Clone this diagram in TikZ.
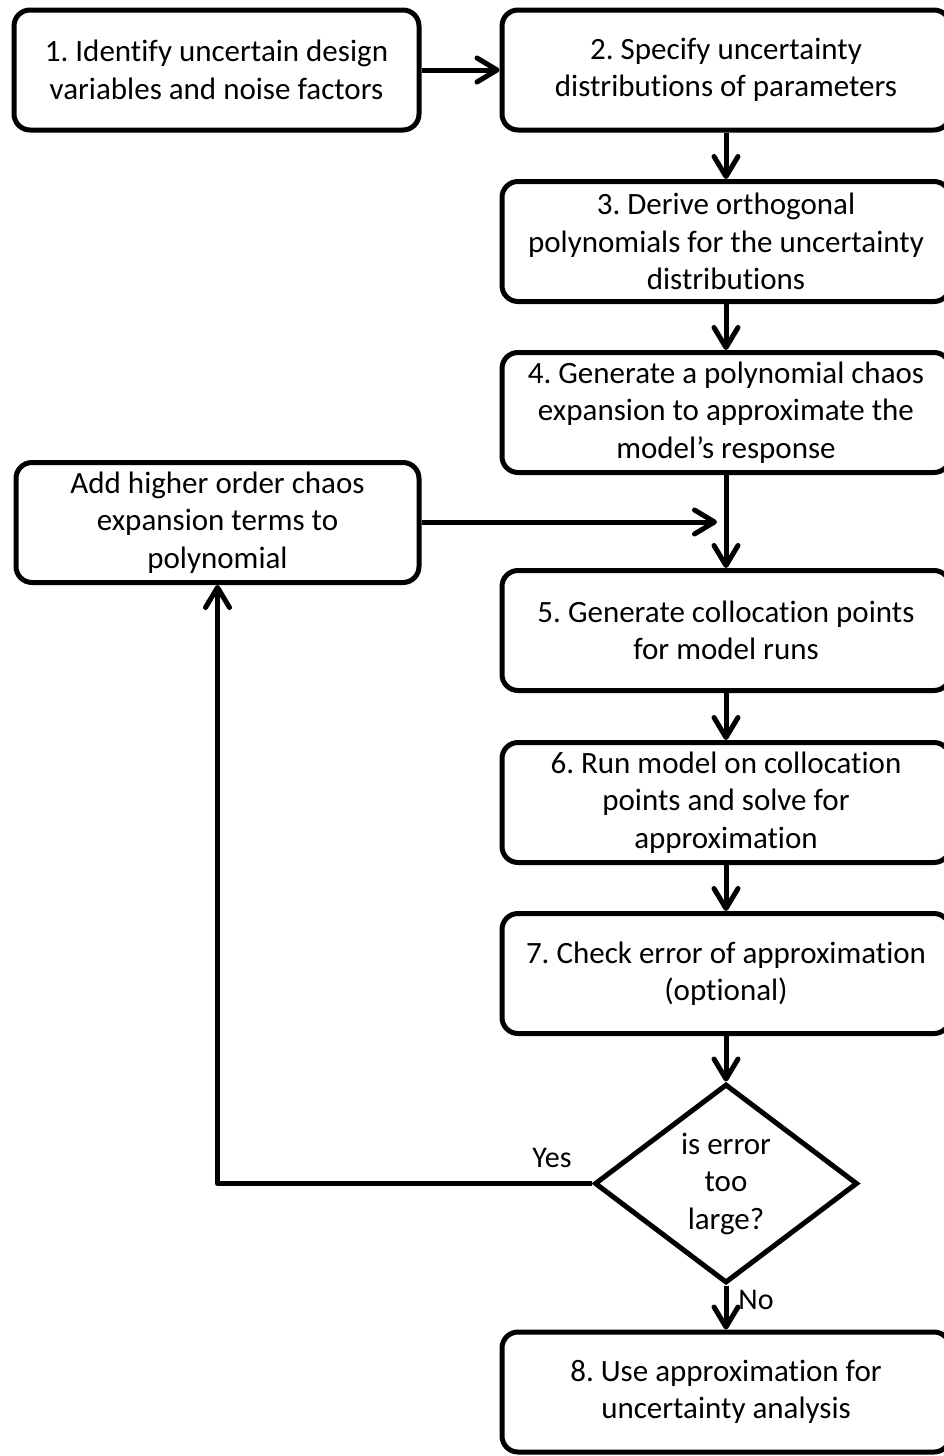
\documentclass[tikz,border=0pt]{standalone}
\usepackage{fontspec}
\setmainfont{Carlito}[Ligatures=NoCommon]
\frenchspacing
\usetikzlibrary{arrows.meta,shapes.geometric}
\begin{document}
\begin{tikzpicture}[x=1pt,y=-1pt,
  stepbox/.style={draw, line width=5pt, rounded corners=16pt, align=center,
    inner sep=0pt, font=\fontsize{31}{37.5}\selectfont},
  rightbox/.style={stepbox, minimum width=448pt, minimum height=120pt},
  leftbox/.style={stepbox, minimum width=403pt, minimum height=120pt},
  decision/.style={draw, diamond, line width=5pt, inner sep=0pt, align=center,
    minimum width=263pt, minimum height=199pt, font=\fontsize{31}{37.5}\selectfont},
  flow/.style={line width=5pt, -{Straight Barb[length=20pt,width=24pt,round]}},
  tag/.style={inner sep=0pt, font=\fontsize{30}{34}\selectfont}
]
\useasboundingbox (0,0) rectangle (943,1456);

% main column of steps
\node[leftbox, minimum width=405pt] (s1) at (216.5,70) {1. Identify uncertain design\\variables and noise factors};
\node[rightbox] (s2) at (726,70) {2. Specify uncertainty\\distributions of parameters};
\node[rightbox] (s3) at (726,241.5) {3. Derive orthogonal\\polynomials for the uncertainty\\distributions};
\node[rightbox] (s4) at (726,412.5) {4. Generate a polynomial chaos\\expansion to approximate the\\model’s response};
\node[rightbox] (s5) at (726,630.5) {5. Generate collocation points\\for model runs};
\node[rightbox] (s6) at (726,802.5) {6. Run model on collocation\\points and solve for\\approximation};
\node[rightbox] (s7) at (726,973.5) {7. Check error of approximation\\(optional)};
\node[decision] (d) at (726,1183.5) {is error\\too\\large?};
\node[rightbox] (s8) at (726,1392) {8. Use approximation for\\uncertainty analysis};

% refinement step on the left
\node[leftbox] (add) at (217.5,522.5) {Add higher order chaos\\expansion terms to\\polynomial};

% connectors
\draw[flow] (s1) -- (s2);
\draw[flow] (s2) -- (s3);
\draw[flow] (s3) -- (s4);
\draw[flow] (s4) -- (s5);
\draw[flow] (s5) -- (s6);
\draw[flow] (s6) -- (s7);
\draw[flow] (s7) -- (d);
\draw[flow] (d) -- (s8);
\coordinate (join) at (717,522);
\draw[flow] (add.east |- join) -- (join);
\draw[flow, line join=round] (d.west) -| (add.south);

% branch labels
\node[tag] (yes) at (552,1158) {Yes};
\node[tag] (no) at (756,1300) {No};
\end{tikzpicture}
\end{document}
